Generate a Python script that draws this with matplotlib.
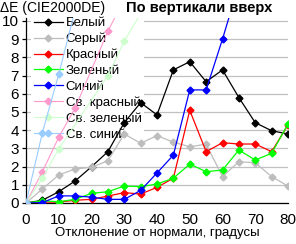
import matplotlib
matplotlib.use('Agg')
import matplotlib.pyplot as plt
import numpy as np

plt.rcParams['font.family'] = ['Liberation Sans', 'DejaVu Sans']

# angles (degrees)
angles = [0, 5, 10, 15, 20, 25, 30, 35, 40, 45, 50, 55, 60, 65, 70, 75, 80]

white = [0, 0.15, 0.62, 1.21, 1.99, 2.82, 4.41, 5.51, 4.84, 7.31, 7.76, 6.66, 7.31, 5.79, 4.41, 3.97, 3.79]
gray = [0, 0.77, 1.54, 1.87, 1.96, 2.32, 3.79, 3.28, 3.70, 3.34, 3.09, 3.23, 1.45, 2.27, 2.21, 1.45, 0.93]
red = [0, 0.05, 0.05, 0.15, 0.20, 0.38, 0.57, 0.49, 0.86, 1.36, 5.09, 2.82, 3.31, 3.24, 3.24, 2.82, 4.29]
green = [0, 0.12, 0.07, 0.20, 0.53, 0.62, 0.93, 0.90, 1.04, 1.36, 2.14, 1.72, 1.81, 2.91, 2.36, 2.73, 4.34]
blue_x = [0, 5, 10, 15, 20, 25, 30, 35, 40, 45, 50, 55, 60, 65]
blue = [0, 0.02, 0.39, 0.39, 0.32, 0.20, 0.20, 0.69, 1.65, 2.63, 6.21, 6.21, 9.0, 12.0]

lred_x = [0, 5, 10, 15, 25, 30]
lred = [0, 1.72, 3.61, 5.22, 9.43, 11.2]
lgreen_x = [0, 5, 10, 25, 30, 35]
lgreen = [0, 1.36, 2.97, 7.0, 8.88, 10.4]
lblue_x = [0, 5, 10, 15]
lblue = [0, 3.86, 7.07, 10.6]

series = [
    (angles, white, '#000000', 'Белый', 0.9),
    (angles, gray, '#bdbdbd', 'Серый', 0.9),
    (angles, red, '#ff0000', 'Красный', 0.9),
    (angles, green, '#00ff00', 'Зеленый', 0.9),
    (blue_x, blue, '#0000ff', 'Синий', 0.9),
    (lred_x, lred, '#ff99cc', 'Св. красный', 0.8),
    (lgreen_x, lgreen, '#ccffcc', 'Св. зеленый', 0.8),
    (lblue_x, lblue, '#99ccff', 'Св. синий', 0.8),
]

fig = plt.figure(figsize=(2.96, 2.44), dpi=100)
ax = fig.add_axes([26/296, 1-203/244, 262/296, 185/244])

for xs, ys, col, name, lw in series:
    ax.plot(xs, ys, color=col, lw=lw, marker='D', ms=3.5, mec=col, mfc=col,
            label=name, zorder=3)

ax.set_xlim(0, 80)
ax.set_ylim(0, 10.16)
ax.set_xticks(range(0, 81, 10))
ax.set_yticks(range(0, 11))
ax.yaxis.grid(True, color='#c0c0c0', lw=0.9)
ax.set_axisbelow(True)
for s in ['top', 'right']:
    ax.spines[s].set_visible(False)
ax.spines['left'].set_linewidth(0.9)
ax.spines['bottom'].set_linewidth(0.9)
ax.tick_params(axis='both', labelsize=11, length=3, width=0.9, pad=2)
ax.tick_params(axis='x', length=0, pad=7)

ax.set_xlabel('Отклонение от нормали, градусы', fontsize=9.5, labelpad=0)
fig.text(0.0, 1-8/244, 'ΔE (CIE2000DE)', fontsize=10, va='center', ha='left')
fig.text(199/296, 1-8/244, 'По вертикали вверх', fontsize=10.5, fontweight='bold',
         va='center', ha='center')

leg = ax.legend(loc='upper left', bbox_to_anchor=(0.02, 1.02), fontsize=9.5,
                frameon=True, facecolor='white', edgecolor='none', framealpha=1,
                fancybox=False, borderpad=0.2, labelspacing=0.27,
                handlelength=2.2, handletextpad=0.2, borderaxespad=0)
leg.set_zorder(2.5)

fig.savefig('out.png', dpi=100)
